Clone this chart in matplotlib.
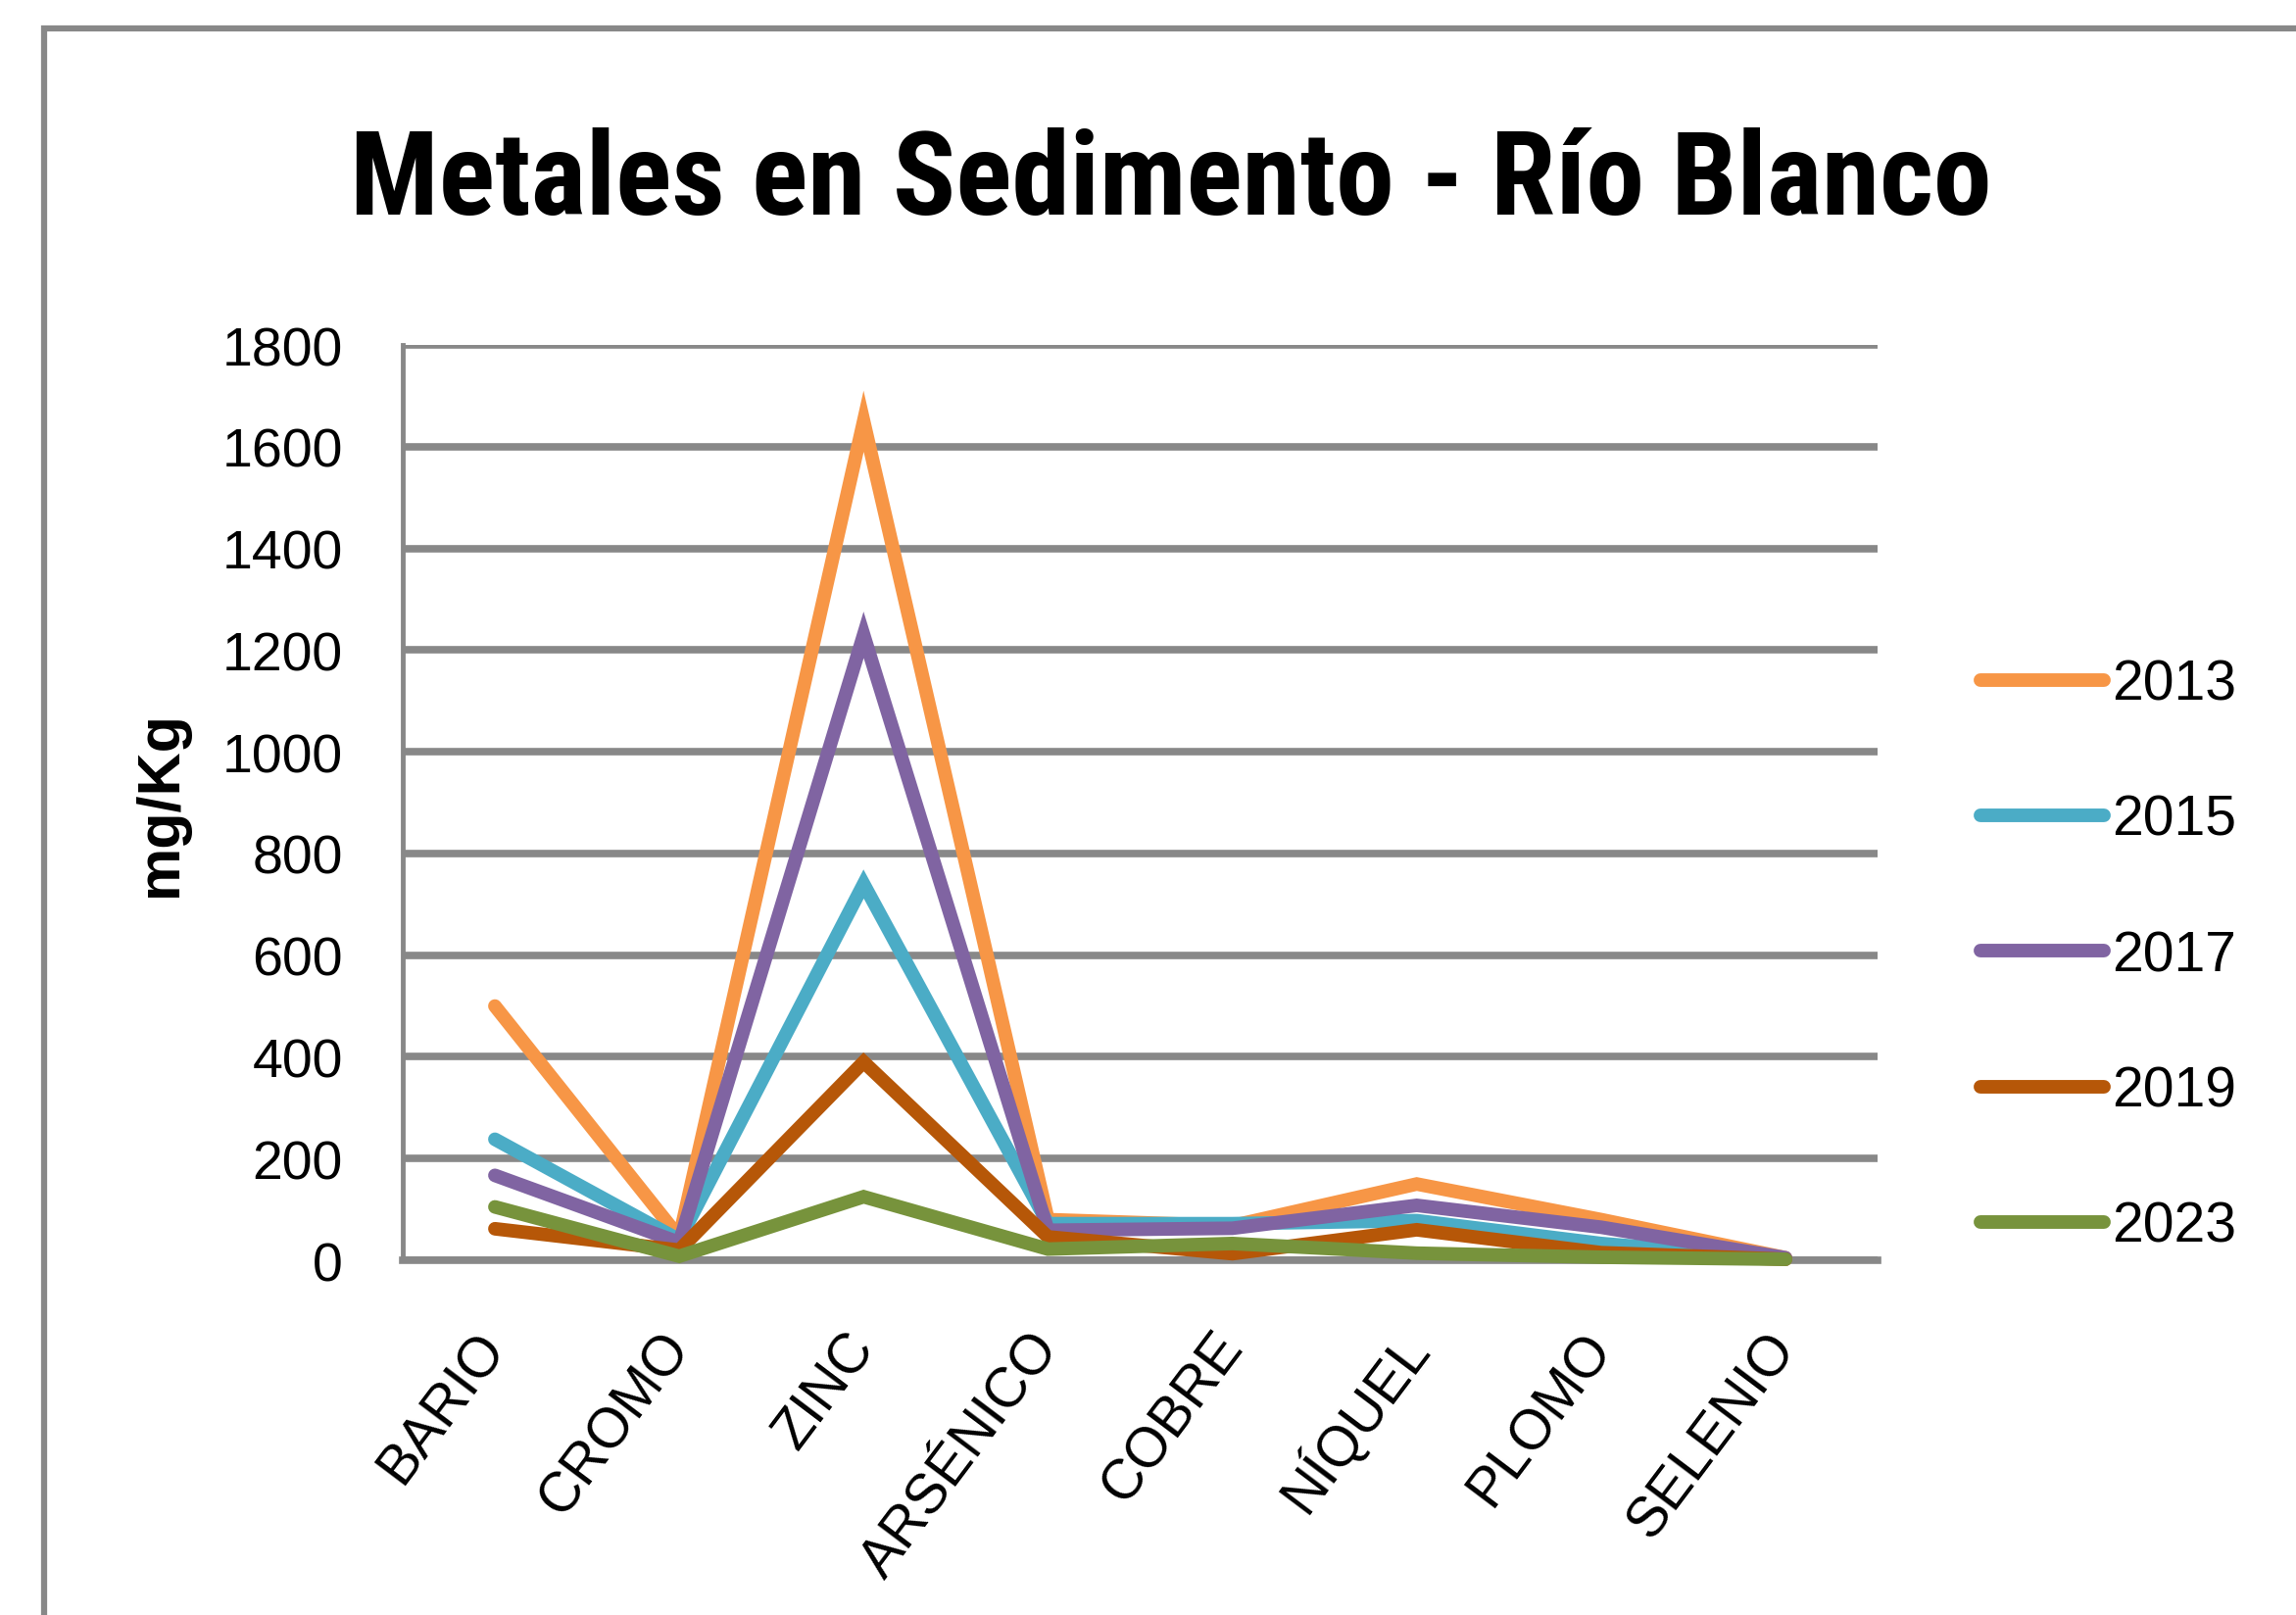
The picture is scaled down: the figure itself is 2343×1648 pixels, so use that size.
import matplotlib
matplotlib.use("Agg")
import matplotlib.pyplot as plt
from matplotlib import font_manager
from matplotlib.patches import Rectangle

categories = ['BARIO', 'CROMO', 'ZINC', 'ARSÉNICO', 'COBRE', 'NÍQUEL', 'PLOMO', 'SELENIO']
years = ['2013', '2015', '2017', '2019', '2023']
v2013 = [500, 45, 1650, 80, 68, 150, 80, 5]
v2015 = [238, 40, 740, 72, 72, 78, 33, 3]
v2017 = [167, 35, 1230, 59, 63, 108, 65, 5]
v2019 = [62, 20, 390, 46, 13, 60, 15, 2]
v2023 = [105, 8, 125, 22, 33, 14, 6, 2]
series = [v2013, v2015, v2017, v2019, v2023]
colors = ['#F79646', '#4BACC6', '#8064A2', '#B65708', '#77933C']
yticks = [0, 200, 400, 600, 800, 1000, 1200, 1400, 1600, 1800]

available = {f.name for f in font_manager.fontManager.ttflist}
base_font = 'Liberation Sans' if 'Liberation Sans' in available else 'DejaVu Sans'
narrow = None
for cand in ['Liberation Sans Narrow', 'Roboto Condensed', 'Open Sans Condensed', 'DejaVu Sans Condensed']:
    if cand in available:
        narrow = cand
        break

plt.rcParams['font.family'] = [base_font, 'DejaVu Sans']

fig = plt.figure(figsize=(23.43, 16.49), dpi=100)
ax = fig.add_axes([0.1754, 0.2195, 0.8178 - 0.1754, 0.7859 - 0.2195])

x = list(range(len(categories)))
for vals, yr, c in zip(series, years, colors):
    ax.plot(x, vals, color=c, lw=10, label=yr, solid_capstyle='round',
            solid_joinstyle='miter', clip_on=False, zorder=3)

ax.set_xlim(-0.5, len(categories) - 0.5)
ax.set_ylim(0, 1800)
ax.set_yticks(yticks)
ax.set_yticklabels([str(t) for t in yticks], fontsize=40)
ax.set_xticks(x)
ax.set_xticklabels(categories, fontsize=41, rotation=53, ha='right',
                   rotation_mode='anchor', va='center')
ax.tick_params(axis='y', length=0, pad=44)
ax.tick_params(axis='x', length=0, pad=57)
ax.yaxis.grid(True, color='#888888', lw=5.5, zorder=1)
ax.set_axisbelow(True)
for s in ['top', 'right']:
    ax.spines[s].set_visible(False)
ax.spines['left'].set_color('#888888')
ax.spines['left'].set_linewidth(3.5)
ax.spines['bottom'].set_color('#888888')
ax.spines['bottom'].set_linewidth(5.5)

ax.set_ylabel('mg/Kg', fontsize=44, fontweight='bold', labelpad=24)

if narrow:
    fig.text(0.510, 0.887, 'Metales en Sedimento - Río Blanco', ha='center', va='center',
             fontsize=86, fontweight='bold', family=[narrow, 'DejaVu Sans'])
else:
    fig.text(0.510, 0.887, 'Metales en Sedimento - Río Blanco', ha='center', va='center',
             fontsize=70, fontweight='bold')

leg = ax.legend(loc='center left', bbox_to_anchor=(0.853, 0.408), bbox_transform=fig.transFigure,
                frameon=False, fontsize=41, handlelength=2.2, handletextpad=0.15,
                labelspacing=1.48, borderaxespad=0)

fig.add_artist(Rectangle((0.0192, -0.1), 1.2, 1.0818, transform=fig.transFigure,
                         fill=False, ec='#888888', lw=4.5))

fig.savefig('out.png', dpi=100)
